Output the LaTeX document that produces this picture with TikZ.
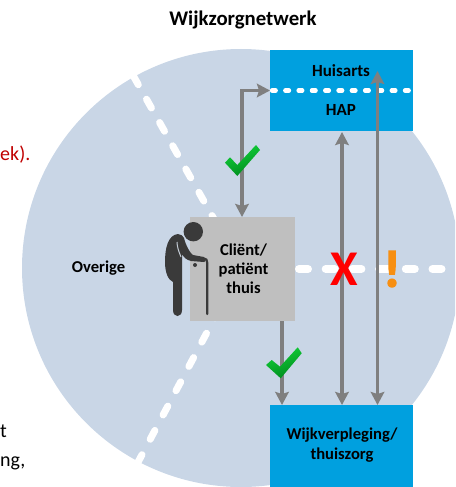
\documentclass[tikz,border=0pt]{standalone}
\usepackage{fontspec}
\setmainfont{Carlito}
\newfontfamily\heavyfont[FakeBold=3]{Carlito Bold}
\usetikzlibrary{arrows.meta}
\definecolor{disc}{HTML}{C9D6E6}
\definecolor{bluebox}{HTML}{00A0DF}
\definecolor{greybox}{HTML}{BFBFBF}
\definecolor{arrowgrey}{HTML}{7F7F7F}
\definecolor{figdark}{HTML}{3A3A3A}
\definecolor{checktop}{HTML}{12D23A}
\definecolor{checkbot}{HTML}{008A1E}
\definecolor{darkred}{HTML}{C00000}
\definecolor{warn}{HTML}{F78F12}
\tikzset{
  x=1pt,y=-1pt,
  lbl/.style={font=\fontsize{16.6}{20}\selectfont\bfseries,align=center,text=black,inner sep=0pt},
  cut/.style={font=\fontsize{20}{24}\selectfont,inner sep=0pt,anchor=base west},
  boxb/.style={fill=bluebox,draw=none,minimum width=143pt,inner sep=0pt},
  spoke/.style={white,line width=7pt,line cap=round,dash pattern=on 10pt off 16.7pt},
  flow/.style={arrowgrey,line width=3.3pt,{Stealth[length=13pt,width=13.5pt,inset=2pt]}-{Stealth[length=13pt,width=13.5pt,inset=2pt]}},
  flowone/.style={arrowgrey,line width=3.3pt,-{Stealth[length=13pt,width=13.5pt,inset=2pt]}},
  tick/.style={shading=axis,top color=checktop,bottom color=checkbot,shading angle=20},
}
\begin{document}
\begin{tikzpicture}
\useasboundingbox (0,0) rectangle (455,487);
\clip (0,0) rectangle (455,487);
\fill[disc] (241,268) circle (219);
% spokes
\draw[spoke] (216.9,224.3) -- (126,62.8);
\draw[spoke,dash pattern=on 10pt off 17.5pt] (219.4,309) -- (130.3,476.7);
\draw[spoke,line width=8pt,dash pattern=on 9pt off 17.7pt] (299,269) -- (470,269);
% nodes
\node[boxb,minimum height=81pt] (hap) at (341.5,90.5) {};
\node[boxb,minimum height=82pt] (wijk) at (341.5,446) {};
\node[fill=greybox,minimum width=105pt,minimum height=104pt,inner sep=0pt] (client) at (242.5,269) {};
\draw[white,line width=4.3pt,line cap=round,dash pattern=on 3.7pt off 9.6pt] (272,90.5) -- (412,90.5);
\node[lbl,font=\fontsize{17}{20}\selectfont\bfseries] (t1) at (341,71) {Huisarts};
\node[lbl,font=\fontsize{17}{20}\selectfont\bfseries] (t2) at (341,110) {HAP};
\node[lbl,font=\fontsize{16.6}{19.2}\selectfont\bfseries] (t3) at (243.5,269) {Cliënt/\\patiënt\\thuis};
\node[lbl,align=center] (t4) at (342,445.5) {Wijkverpleging/\\thuiszorg};
\node[lbl] (t5) at (98.5,268) {Overige};
\node[lbl,font=\fontsize{20.8}{24}\selectfont\bfseries] (title) at (243,19.5) {Wijkzorgnetwerk};
\node[cut,text=darkred] (t6) at (0,160) {ek).};
\node[cut,text=black] (t7) at (0,437) {t};
\node[cut,text=black] (t8) at (0,466) {ng,};
% connectors
\coordinate (c1) at (242,90.5);
\draw[flow] (242,217) -- (c1) -- (270,90.5);
\draw[flowone] (282,321) -- (282,405);
\draw[flow] (342,132) -- (342,405);
\draw[flow] (377.5,71) -- (377.5,405);
% checks
\path[tick] (225,162.7) -- (237.3,176) -- (260,150) -- (256,145) -- (237.3,165) -- (230,157.3) -- cycle;
\path[tick] (266,365) -- (280.7,378.3) -- (301.7,353.3) -- (297.7,347.3) -- (280,366.7) -- (271.7,360) -- cycle;
% marks
\node[inner sep=0pt,text=red,font=\fontsize{50}{50}\selectfont\bfseries] (x) at (344,269.5) {X};
\node[inner sep=0pt,text=warn,font=\heavyfont\fontsize{52}{52}\selectfont] (ex) at (392,269) {!};
% figure
\fill[figdark] (193.3,231.7) circle (9.7);
\fill[figdark] (165,262) .. controls (165,248) and (168,235) .. (178,234) .. controls (181,234) and (183,236) .. (184,238) .. controls (186,246) and (190,253) .. (193,255) -- (204,257) .. controls (206,258) and (206,262) .. (204,262) -- (191,261) .. controls (187,260) and (184,258) .. (182,254) -- (182,310) .. controls (182,318) and (173,318) .. (173,310) -- (173,282) .. controls (168,280) and (165,272) .. (165,262) -- cycle;
\draw[greybox!40!disc,line width=1pt] (177,242) .. controls (177,247) and (179,252) .. (181,257);
\fill[figdark] (195,265) circle (2);
\draw[figdark,line width=2.2pt,line cap=round] (204,258.5) .. controls (206,258.5) and (207.3,260) .. (207.3,263) -- (207.3,314);
\end{tikzpicture}
\end{document}
